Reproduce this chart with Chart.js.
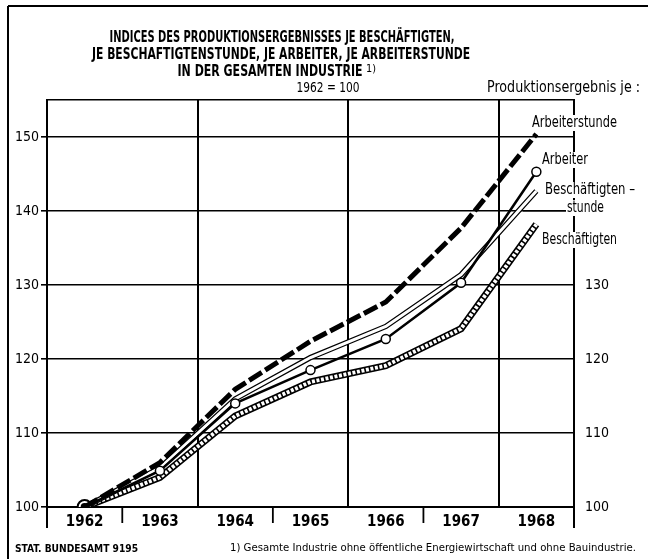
<!DOCTYPE html>
<html>
<head>
<meta charset="utf-8">
<script src="https://cdn.jsdelivr.net/npm/chart.js@4.4.1/dist/chart.umd.min.js"></script>
<style>
  body { margin: 0; background: #fff; }
  canvas { display: block; }
</style>
</head>
<body>
<canvas id="chart" width="648" height="559"></canvas>
<script>
// Daten (1962 = 100)
const jahre = ['1962', '1963', '1964', '1965', '1966', '1967', '1968'];
const arbeiterstunde = [100, 106.0, 115.9, 122.4, 127.7, 137.7, 150.4];
const arbeiter = [100, 104.9, 114.0, 118.5, 122.7, 130.3, 145.3];
const beschaeftigtenstunde = [100, 105.3, 114.6, 120.2, 124.4, 131.4, 142.7];
const beschaeftigten = [100, 104.0, 112.3, 116.9, 119.1, 124.1, 138.2];
const ticksLinks = [100, 110, 120, 130, 140, 150];
const ticksRechts = [100, 110, 120, 130];

const schrift = "'Liberation Sans Narrow', 'DejaVu Sans Condensed', 'Roboto Condensed', sans-serif";

// Text auf genaue Breite bringen
function text(ctx, s, x, y, w, font, align, weiss) {
  ctx.save();
  ctx.font = font;
  ctx.textBaseline = 'middle';
  ctx.textAlign = 'left';
  const m = ctx.measureText(s).width;
  let left = x;
  if (align === 'center') left = x - w / 2;
  if (align === 'right') left = x - w;
  if (weiss) {
    ctx.fillStyle = '#fff';
    ctx.fillRect(left - 1, y - 8, w + 2, 16);
  }
  ctx.fillStyle = '#000';
  ctx.translate(left, y);
  ctx.scale(w / m, 1);
  ctx.fillText(s, 0, 0);
  ctx.restore();
}

function linie(ctx, x1, y1, x2, y2, w) {
  ctx.beginPath();
  ctx.moveTo(x1, y1);
  ctx.lineTo(x2, y2);
  ctx.lineWidth = w;
  ctx.strokeStyle = '#000';
  ctx.stroke();
}

const beschriftung = {
  id: 'beschriftung',
  afterDraw(chart) {
    const ctx = chart.ctx;
    const x = chart.scales.x;
    const area = chart.chartArea;

    // Rahmen
    linie(ctx, 8, 6, 648, 6, 2);
    linie(ctx, 8, 6, 8, 559, 2);

    // Titel
    text(ctx, 'INDICES DES PRODUKTIONSERGEBNISSES JE BESCHÄFTIGTEN,', 282, 38, 345, 'bold 15px ' + schrift, 'center');
    text(ctx, 'JE BESCHAFTIGTENSTUNDE, JE ARBEITER, JE ARBEITERSTUNDE', 281, 55, 378, 'bold 15px ' + schrift, 'center');
    text(ctx, 'IN DER GESAMTEN INDUSTRIE', 270, 72, 185, 'bold 15px ' + schrift, 'center');
    text(ctx, '1)', 366, 69, 10, '10px ' + schrift, 'left');
    text(ctx, '1962 = 100', 328, 88, 63, '14px ' + schrift, 'center');
    text(ctx, 'Produktionsergebnis je :', 487, 88, 153, '15px ' + schrift, 'left');

    // Reihenbeschriftung
    text(ctx, 'Arbeiterstunde', 532, 123, 85, '15px ' + schrift, 'left', true);
    text(ctx, 'Arbeiter', 542, 160, 46, '15px ' + schrift, 'left', true);
    text(ctx, 'Beschäftigten –', 545, 190, 90, '15px ' + schrift, 'left', true);
    text(ctx, 'stunde', 567, 208, 37, '15px ' + schrift, 'left', true);
    text(ctx, 'Beschäftigten', 542, 240, 75, '15px ' + schrift, 'left', true);
    linie(ctx, 523, 211, 566, 211, 1.2);

    // Fuss
    text(ctx, 'STAT. BUNDESAMT 9195', 15, 549, 123, 'bold 11px ' + schrift, 'left');
    text(ctx, '1) Gesamte Industrie ohne öffentliche Energiewirtschaft und ohne Bauindustrie.', 230, 548, 406, '11px ' + schrift, 'left');

    // Achsen nach unten verlaengern, Trennstriche zwischen den Jahren
    linie(ctx, area.left, area.bottom, area.left, area.bottom + 21, 2);
    linie(ctx, area.right, area.bottom, area.right, area.bottom + 21, 2);
    for (let i = 1; i < jahre.length; i += 2) {
      const px = (x.getPixelForTick(i - 1) + x.getPixelForTick(i)) / 2;
      linie(ctx, px, area.bottom, px, area.bottom + 16, 1.8);
    }
  }
};

new Chart(document.getElementById('chart'), {
  type: 'line',
  data: {
    labels: jahre,
    datasets: [
      {
        label: 'Arbeiterstunde',
        data: arbeiterstunde,
        borderColor: '#000',
        borderWidth: 5,
        borderDash: [15, 4],
        pointRadius: [4, 0, 0, 0, 0, 0, 0],
        pointBackgroundColor: '#000',
        pointBorderWidth: 0,
        order: 1
      },
      {
        label: 'Arbeiter',
        data: arbeiter,
        borderColor: '#000',
        borderWidth: 2.5,
        pointRadius: [7, 4.5, 4.5, 4.5, 4.5, 4.5, 4.5],
        pointBackgroundColor: '#fff',
        pointBorderColor: '#000',
        pointBorderWidth: [2, 1.5, 1.5, 1.5, 1.5, 1.5, 1.5],
        order: 2
      },
      {
        label: 'Beschäftigtenstunde',
        data: beschaeftigtenstunde,
        borderColor: '#fff',
        borderWidth: 3,
        pointRadius: 0,
        order: 3
      },
      {
        label: 'Beschäftigtenstunde Rand',
        data: beschaeftigtenstunde,
        borderColor: '#000',
        borderWidth: 5.4,
        pointRadius: 0,
        order: 4
      },
      {
        label: 'Beschäftigten',
        data: beschaeftigten,
        borderColor: '#fff',
        borderWidth: 3.8,
        borderDash: [3, 1.6],
        pointRadius: 0,
        order: 5
      },
      {
        label: 'Beschäftigten Rand',
        data: beschaeftigten,
        borderColor: '#000',
        borderWidth: 7,
        pointRadius: 0,
        order: 6
      }
    ]
  },
  options: {
    responsive: false,
    animation: false,
    events: [],
    layout: { padding: { top: 100, left: 0, right: 0, bottom: 0 } },
    plugins: {
      legend: { display: false },
      title: { display: false },
      tooltip: { enabled: false }
    },
    scales: {
      x: {
        offset: true,
        grid: {
          offset: true,
          drawTicks: false,
          lineWidth: 2,
          color: c => (c.index === 2 || c.index === 4 || c.index === 6) ? '#000' : 'rgba(0,0,0,0)'
        },
        border: { color: '#000', width: 2 },
        ticks: {
          color: '#000',
          padding: 6,
          font: { family: schrift, size: 15, weight: 'bold' }
        },
        afterFit: s => { s.height = 52; }
      },
      y: {
        min: 100,
        max: 155,
        afterBuildTicks: s => {
          s.ticks = ticksLinks.concat([155]).map(v => ({ value: v }));
        },
        grid: {
          color: '#000',
          lineWidth: 1.6,
          tickLength: 6,
          tickColor: c => c.tick && c.tick.value === 155 ? 'rgba(0,0,0,0)' : '#000'
        },
        border: { color: '#000', width: 2 },
        ticks: {
          color: '#000',
          padding: 2,
          font: { family: schrift, size: 14 },
          callback: v => ticksLinks.includes(v) ? String(v) : ''
        },
        afterFit: s => { s.width = 47; }
      },
      y2: {
        position: 'right',
        min: 100,
        max: 155,
        afterBuildTicks: s => {
          s.ticks = ticksRechts.map(v => ({ value: v }));
        },
        grid: { drawOnChartArea: false, drawTicks: false },
        border: { color: '#000', width: 2 },
        ticks: {
          color: '#000',
          padding: 11,
          font: { family: schrift, size: 14 }
        },
        afterFit: s => { s.width = 74; }
      }
    }
  },
  plugins: [beschriftung]
});
</script>
</body>
</html>
